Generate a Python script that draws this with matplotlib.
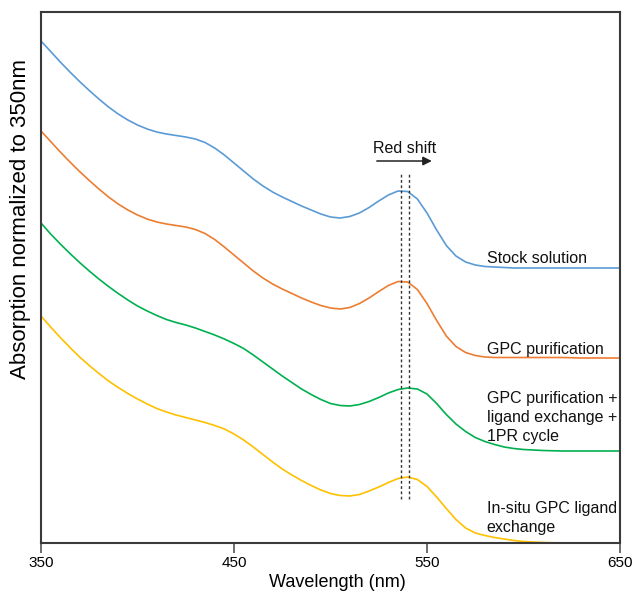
import matplotlib
matplotlib.use("Agg")
import matplotlib.pyplot as plt

plt.rcParams['font.family'] = ['Liberation Sans', 'DejaVu Sans']

# wavelength grid (nm)
wavelength = list(range(350, 601, 5)) + [610, 620, 630, 640, 650]

# offset absorption traces (arbitrary units, stacked)
stock = [502, 491.5, 481, 471, 461.5, 452.5, 444, 436, 429, 423,
         418, 414, 411, 409, 407.5, 406, 404, 400.5, 395, 388,
         380, 372, 364, 357, 351, 346, 341.5, 337, 333, 329,
         326, 325, 326.5, 330, 335.5, 342, 348, 352, 351.5, 344,
         330, 313, 297.5, 287, 281, 278, 276.5, 276, 275.5, 275,
         275, 275, 275, 275, 275, 275]
gpc = [412, 401.5, 391, 381, 371.5, 362.5, 354, 346, 339, 333,
       328, 324, 321, 319, 317.5, 316, 313.5, 309.5, 303.5, 296,
       288, 280, 272, 265, 259, 254, 249.5, 245, 241, 237.5,
       235, 234, 235.5, 239.5, 245, 251.5, 257.5, 261.5, 261, 253.5,
       239.5, 222.5, 207, 196.5, 190.5, 187.5, 186, 185.5, 185.5, 185.5,
       185.5, 185.5, 185.5, 185, 185, 185]
gpc_lig_1pr = [320, 309, 299, 289.5, 280.5, 272, 264, 256.5, 249.5, 243,
               237, 232, 227.5, 223.5, 220.5, 218, 215, 211.5, 208, 204,
               199.5, 194.5, 188, 181, 174, 167, 160.5, 154, 148.5, 143.5,
               139.5, 137.5, 137, 138.5, 141.5, 145.5, 150, 153.5, 155, 154,
               149, 139.5, 128.5, 119, 111.5, 105.5, 101.5, 98.5, 96, 94.5,
               93.5, 92.5, 92, 92, 92, 92]
insitu = [227, 216, 205.5, 195.5, 186, 177.5, 169.5, 162, 155.5, 149.5,
          144, 139, 134.5, 131, 128, 125.5, 123, 120.5, 117.5, 114,
          109, 103, 96, 88.5, 81, 74, 68, 62.5, 57.5, 53,
          49.5, 47.5, 47, 48.5, 52, 56, 60.5, 64.5, 66, 63.5,
          56.5, 46, 34.5, 23.5, 15, 10, 7.5, 5.5, 4, 2.5,
          1.5, 0.5, 0, 0, 0, 0]

series_labels = ["Stock solution", "GPC purification",
                 "GPC purification +\nligand exchange +\n1PR cycle",
                 "In-situ GPC ligand\nexchange"]
colors = ["#5B9BD5", "#ED7D31", "#00B050", "#FFC000"]
label_y = [280, 189, 102, 11]   # baseline of the last line of each label

peak_lines = [536.4, 540.7]
xticks = [350, 450, 550, 650]

fig = plt.figure(figsize=(6.37, 5.96), dpi=100)
ax = fig.add_axes([41/637, 53/596, 579/637, 531/596])

for ys, c in zip([stock, gpc, gpc_lig_1pr, insitu], colors):
    ax.plot(wavelength, ys, color=c, lw=1.2, solid_joinstyle='round')

ax.vlines(peak_lines, 44, 369, colors="#333333", linestyles=(0, (2, 1.8)), lw=1.0)

ax.annotate('', xy=(552.5, 382), xytext=(524, 382),
            arrowprops=dict(arrowstyle='-|>', color='#222222', lw=1.1,
                            mutation_scale=13, shrinkA=0, shrinkB=0))
ax.text(538.6, 390, "Red shift", ha='center', va='baseline', fontsize=11.5, color='#111111')

for lab, ly in zip(series_labels, label_y):
    ax.text(581, ly, lab, ha='left', va='baseline', fontsize=11.5,
            color='#111111', linespacing=1.33)

ax.set_xlim(350, 650)
ax.set_ylim(0, 531)
ax.set_xticks(xticks)
ax.set_xticklabels([str(t) for t in xticks], fontsize=11)
ax.set_yticks([])
ax.tick_params(axis='x', direction='out', length=7, width=1.2, color='#555555', pad=2.5)
for s in ax.spines.values():
    s.set_color('#3a3a3a')
    s.set_linewidth(1.5)

ax.set_xlabel("Wavelength (nm)", fontsize=13, labelpad=3)
ax.xaxis.label.set_x((337 - 41) / 579)
fig.text(21/637, 1 - 219/596, "Absorption normalized to 350nm", rotation=90,
         ha='center', va='center', fontsize=16)

fig.savefig("out.png", dpi=100)
